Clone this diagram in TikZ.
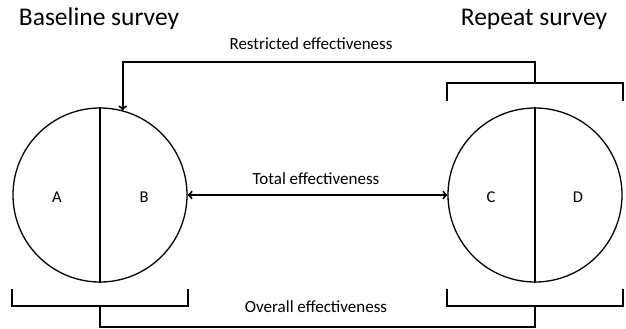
\documentclass[tikz,border=0pt]{standalone}
\usepackage{fontspec}
\setmainfont{Carlito}
\usetikzlibrary{positioning}
\begin{document}
\begin{tikzpicture}[x=1pt,y=-1pt,
		survey/.style={draw,circle,minimum size=174pt,inner sep=0pt,line width=1.3pt},
		link/.style={line width=2pt},
		part/.style={font=\fontsize{16.5}{18}\selectfont},
		lbl/.style={font=\fontsize{17}{19}\selectfont,anchor=base},
		title/.style={font=\fontsize{25.5}{28}\selectfont,anchor=base}]
		\useasboundingbox (0,0) rectangle (626,329);
		
		% the two surveys
		\node[survey] (base) at (100,195) {};
		\node[survey] (rep) at (535,195) {};
		\draw[line width=1.6pt] (base.north) -- (base.south);
		\draw[line width=1.6pt] (rep.north) -- (rep.south);
		\node[part] (a) at (57,197) {A};
		\node[part] (b) at (144,197) {B};
		\node[part] (c) at (491,197) {C};
		\node[part] (d) at (578,197) {D};
		\node[title] (basetitle) at (99,26) {Baseline survey};
		\node[title] (reptitle) at (534,26) {Repeat survey};
		
		% brackets
		\coordinate (lbl) at (base.west |- 0,289);
		\coordinate (lbr) at (base.east |- 0,289);
		\coordinate (rbl) at (rep.west |- 0,289);
		\coordinate (rbr) at (rep.east |- 0,289);
		\coordinate (rtl) at (rep.west |- 0,101);
		\coordinate (rtr) at (rep.east |- 0,101);
		\draw[link] (lbl) -- ++(0,17) coordinate (lbm) -| (lbr);
		\draw[link] (rbl) -- ++(0,17) -| (rbr);
		\draw[link] (rtl) -- ++(0,-18) -| (rtr);
		
		% effectiveness
		\draw[link,->] (rep.north |- 0,83) -- ++(0,-21) -| (base.75);
		\node[lbl] (restricted) at (311,50) {Restricted effectiveness};
		\draw[link,<->] (base.east) -- (rep.west);
		\node[lbl] (total) at (316,184) {Total effectiveness};
		\draw[link] (base.south |- 0,306) -- ++(0,21) -| (rep.south |- 0,306);
		\node[lbl] (overall) at (316,312) {Overall effectiveness};
\end{tikzpicture}
\end{document}
